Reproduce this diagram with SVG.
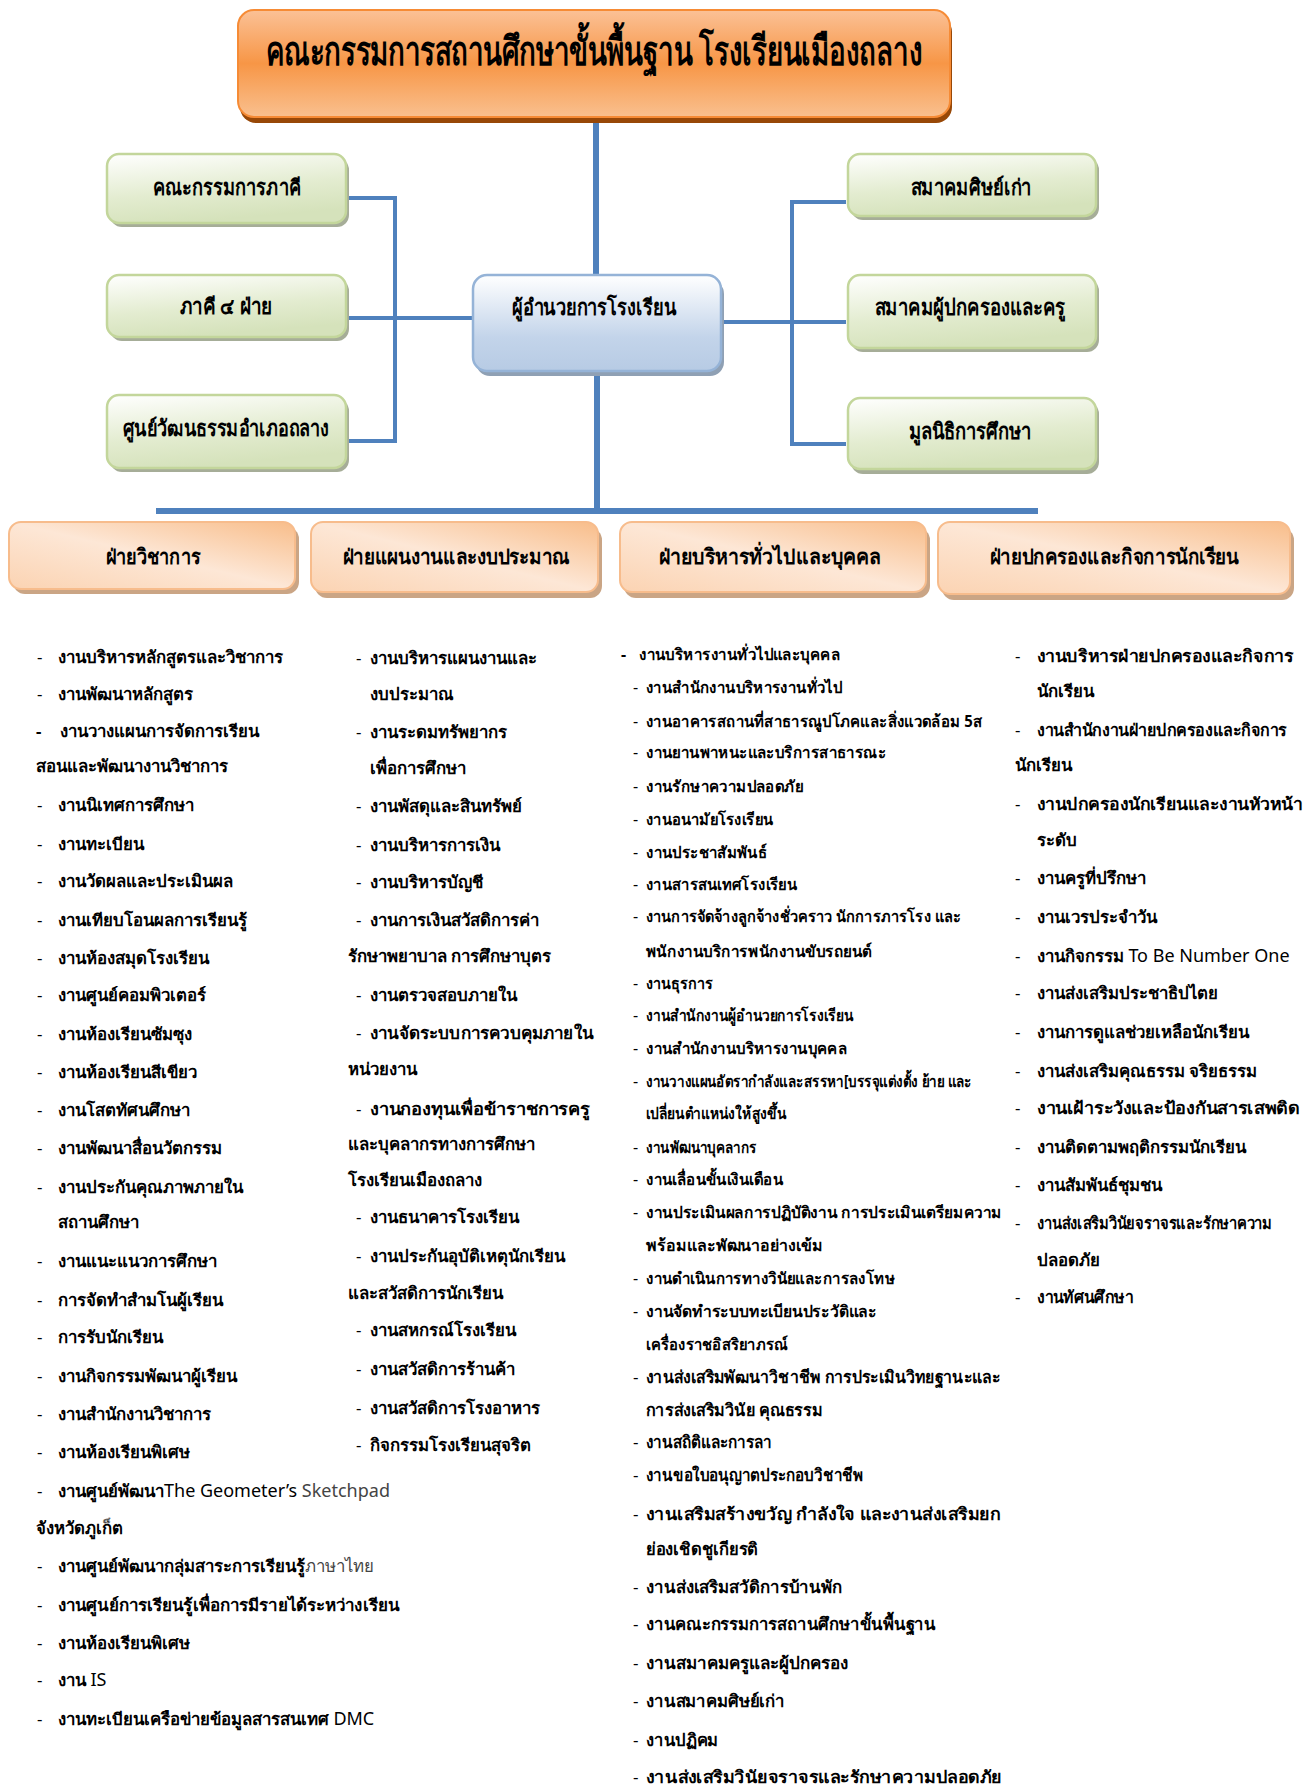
<svg xmlns="http://www.w3.org/2000/svg" width="1312" height="1788" viewBox="0 0 1312 1788">
<defs>
<linearGradient id="gTop" x1="0" y1="0" x2="0" y2="1">
<stop offset="0" stop-color="#fbc196"/><stop offset="0.5" stop-color="#f79646"/><stop offset="1" stop-color="#f9c08f"/>
</linearGradient>
<linearGradient id="gGreen" x1="0" y1="0" x2="0.3" y2="1">
<stop offset="0" stop-color="#ffffff"/><stop offset="0.6" stop-color="#e3ecd0"/><stop offset="1" stop-color="#d5e2bb"/>
</linearGradient>
<linearGradient id="gBlue" x1="0" y1="0" x2="0" y2="1">
<stop offset="0" stop-color="#ffffff"/><stop offset="0.65" stop-color="#c3d4ea"/><stop offset="1" stop-color="#b7cbe4"/>
</linearGradient>
<linearGradient id="gPeach" x1="1" y1="0" x2="0" y2="1">
<stop offset="0" stop-color="#f8bd8a"/><stop offset="0.5" stop-color="#fde7d6"/><stop offset="1" stop-color="#fbd3b2"/>
</linearGradient>
<style>
.conn{stroke:#4f81bd;fill:none}
.thin{stroke-width:4}
.thick{stroke-width:6}
.hd{font-family:"Noto Sans","DejaVu Sans",sans-serif;font-weight:bold;fill:#000;text-anchor:middle}
.li{font-family:"Noto Sans","DejaVu Sans",sans-serif;font-size:16.8px;font-weight:bold;fill:#000}
.l3{font-size:16px}
.l3b{font-size:17px}
.d{font-weight:normal}
.nw{font-weight:normal}
.lat{font-weight:normal;font-size:18px}
</style>
</defs>

<g id="connectors">
<line class="conn thick" x1="596" y1="122" x2="596" y2="276"/>
<line class="conn thick" x1="597" y1="374" x2="597" y2="511"/>
<line class="conn thick" x1="156" y1="511" x2="1038" y2="511"/>
<polyline class="conn thin" points="346,198 395,198 395,441 346,441"/>
<line class="conn thin" x1="346" y1="318" x2="472" y2="318"/>
<polyline class="conn thin" points="846,202 792,202 792,444 846,444"/>
<line class="conn thin" x1="721" y1="322" x2="846" y2="322"/>
</g>

<g id="n-top">
<rect x="240" y="16" width="712" height="107" rx="16" fill="#984807"/>
<rect x="238" y="10" width="712" height="107" rx="16" fill="url(#gTop)" stroke="#f68b35" stroke-width="2"/>
<text class="hd" x="594" y="65" font-size="40" textLength="657" lengthAdjust="spacingAndGlyphs">คณะกรรมการสถานศึกษาขั้นพื้นฐาน โรงเรียนเมืองถลาง</text>
</g>

<g id="n-left1">
<rect x="110" y="158" width="239" height="69" rx="12" fill="#a6ad98"/>
<rect x="107" y="154" width="239" height="69" rx="12" fill="url(#gGreen)" stroke="#c3d69b" stroke-width="2.5"/>
<text class="hd" x="227" y="195" font-size="22" textLength="148" lengthAdjust="spacingAndGlyphs">คณะกรรมการภาคี</text>
</g>
<g id="n-left2">
<rect x="110" y="279" width="239" height="62" rx="12" fill="#a6ad98"/>
<rect x="107" y="275" width="239" height="62" rx="12" fill="url(#gGreen)" stroke="#c3d69b" stroke-width="2.5"/>
<text class="hd" x="226" y="314" font-size="22" textLength="93" lengthAdjust="spacingAndGlyphs">ภาคี ๔ ฝ่าย</text>
</g>
<g id="n-left3">
<rect x="110" y="399" width="239" height="73" rx="12" fill="#a6ad98"/>
<rect x="107" y="395" width="239" height="73" rx="12" fill="url(#gGreen)" stroke="#c3d69b" stroke-width="2.5"/>
<text class="hd" x="226" y="436" font-size="22" textLength="206" lengthAdjust="spacingAndGlyphs">ศูนย์วัฒนธรรมอำเภอถลาง</text>
</g>

<g id="n-center">
<rect x="476" y="280" width="248" height="96" rx="14" fill="#8fa0b4"/>
<rect x="473" y="275" width="248" height="96" rx="14" fill="url(#gBlue)" stroke="#95b3d7" stroke-width="2.5"/>
<text class="hd" x="594" y="315" font-size="22" textLength="164" lengthAdjust="spacingAndGlyphs">ผู้อำนวยการโรงเรียน</text>
</g>

<g id="n-right1">
<rect x="851" y="158" width="248" height="62" rx="12" fill="#a6ad98"/>
<rect x="848" y="154" width="248" height="62" rx="12" fill="url(#gGreen)" stroke="#c3d69b" stroke-width="2.5"/>
<text class="hd" x="971" y="195" font-size="22" textLength="121" lengthAdjust="spacingAndGlyphs">สมาคมศิษย์เก่า</text>
</g>
<g id="n-right2">
<rect x="851" y="279" width="248" height="73" rx="12" fill="#a6ad98"/>
<rect x="848" y="275" width="248" height="73" rx="12" fill="url(#gGreen)" stroke="#c3d69b" stroke-width="2.5"/>
<text class="hd" x="970" y="315" font-size="22" textLength="191" lengthAdjust="spacingAndGlyphs">สมาคมผู้ปกครองและครู</text>
</g>
<g id="n-right3">
<rect x="851" y="402" width="248" height="72" rx="12" fill="#a6ad98"/>
<rect x="848" y="398" width="248" height="71" rx="12" fill="url(#gGreen)" stroke="#c3d69b" stroke-width="2.5"/>
<text class="hd" x="970" y="439" font-size="22" textLength="123" lengthAdjust="spacingAndGlyphs">มูลนิธิการศึกษา</text>
</g>

<g id="n-div1">
<rect x="13" y="527" width="286" height="67" rx="12" fill="#caa585"/>
<rect x="9" y="522" width="286" height="67" rx="12" fill="url(#gPeach)" stroke="#f7bc8c" stroke-width="2"/>
<text class="hd" x="153" y="564" font-size="21" textLength="95" lengthAdjust="spacingAndGlyphs">ฝ่ายวิชาการ</text>
</g>
<g id="n-div2">
<rect x="315" y="528" width="287" height="70" rx="12" fill="#caa585"/>
<rect x="311" y="522" width="287" height="70" rx="12" fill="url(#gPeach)" stroke="#f7bc8c" stroke-width="2"/>
<text class="hd" x="456" y="564" font-size="21" textLength="227" lengthAdjust="spacingAndGlyphs">ฝ่ายแผนงานและงบประมาณ</text>
</g>
<g id="n-div3">
<rect x="624" y="528" width="306" height="70" rx="12" fill="#caa585"/>
<rect x="620" y="522" width="306" height="70" rx="12" fill="url(#gPeach)" stroke="#f7bc8c" stroke-width="2"/>
<text class="hd" x="770" y="564" font-size="21" textLength="222" lengthAdjust="spacingAndGlyphs">ฝ่ายบริหารทั่วไปและบุคคล</text>
</g>
<g id="n-div4">
<rect x="942" y="528" width="352" height="72" rx="12" fill="#caa585"/>
<rect x="938" y="522" width="352" height="72" rx="12" fill="url(#gPeach)" stroke="#f7bc8c" stroke-width="2"/>
<text class="hd" x="1114" y="564" font-size="21" textLength="249" lengthAdjust="spacingAndGlyphs">ฝ่ายปกครองและกิจการนักเรียน</text>
</g>

<g id="list-academic" class="li">
<text x="37" y="663" class="d">-</text><text x="58" y="663">งานบริหารหลักสูตรและวิชาการ</text>
<text x="37" y="700" class="d">-</text><text x="58" y="700">งานพัฒนาหลักสูตร</text>
<text x="36" y="737">-</text><text x="60" y="737">งานวางแผนการจัดการเรียน</text>
<text x="36" y="772">สอนและพัฒนางานวิชาการ</text>
<text x="37" y="811" class="d">-</text><text x="58" y="811">งานนิเทศการศึกษา</text>
<text x="37" y="850" class="d">-</text><text x="58" y="850">งานทะเบียน</text>
<text x="37" y="887" class="d">-</text><text x="58" y="887">งานวัดผลและประเมินผล</text>
<text x="37" y="926" class="d">-</text><text x="58" y="926">งานเทียบโอนผลการเรียนรู้</text>
<text x="37" y="964" class="d">-</text><text x="58" y="964">งานห้องสมุดโรงเรียน</text>
<text x="37" y="1001" class="d">-</text><text x="58" y="1001">งานศูนย์คอมพิวเตอร์</text>
<text x="37" y="1040" class="d">-</text><text x="58" y="1040">งานห้องเรียนซัมซุง</text>
<text x="37" y="1078" class="d">-</text><text x="58" y="1078">งานห้องเรียนสีเขียว</text>
<text x="37" y="1116" class="d">-</text><text x="58" y="1116">งานโสตทัศนศึกษา</text>
<text x="37" y="1154" class="d">-</text><text x="58" y="1154">งานพัฒนาสื่อนวัตกรรม</text>
<text x="37" y="1193" class="d">-</text><text x="58" y="1193">งานประกันคุณภาพภายใน</text>
<text x="58" y="1228">สถานศึกษา</text>
<text x="37" y="1267" class="d">-</text><text x="58" y="1267">งานแนะแนวการศึกษา</text>
<text x="37" y="1306" class="d">-</text><text x="58" y="1306">การจัดทำสำมโนผู้เรียน</text>
<text x="37" y="1343" class="d">-</text><text x="58" y="1343">การรับนักเรียน</text>
<text x="37" y="1382" class="d">-</text><text x="58" y="1382">งานกิจกรรมพัฒนาผู้เรียน</text>
<text x="37" y="1420" class="d">-</text><text x="58" y="1420">งานสำนักงานวิชาการ</text>
<text x="37" y="1458" class="d">-</text><text x="58" y="1458">งานห้องเรียนพิเศษ</text>
<text x="37" y="1497" class="d">-</text><text x="58" y="1497">งานศูนย์พัฒนา<tspan class="lat">The Geometer’s </tspan><tspan class="lat" fill="#444">Sketchpad</tspan></text>
<text x="36" y="1534">จังหวัดภูเก็ต</text>
<text x="37" y="1572" class="d">-</text><text x="58" y="1572">งานศูนย์พัฒนากลุ่มสาระการเรียนรู้<tspan class="nw" fill="#444">ภาษาไทย</tspan></text>
<text x="37" y="1611" class="d">-</text><text x="58" y="1611" textLength="341" lengthAdjust="spacingAndGlyphs">งานศูนย์การเรียนรู้เพื่อการมีรายได้ระหว่างเรียน</text>
<text x="37" y="1649" class="d">-</text><text x="58" y="1649">งานห้องเรียนพิเศษ</text>
<text x="37" y="1686" class="d">-</text><text x="58" y="1686">งาน <tspan class="lat">IS</tspan></text>
<text x="37" y="1725" class="d">-</text><text x="58" y="1725">งานทะเบียนเครือข่ายข้อมูลสารสนเทศ <tspan class="lat">DMC</tspan></text>
</g>

<g id="list-budget" class="li">
<text x="356" y="664" class="d">-</text><text x="370" y="664">งานบริหารแผนงานและ</text>
<text x="370" y="700">งบประมาณ</text>
<text x="356" y="738" class="d">-</text><text x="370" y="738">งานระดมทรัพยากร</text>
<text x="370" y="774">เพื่อการศึกษา</text>
<text x="356" y="812" class="d">-</text><text x="370" y="812">งานพัสดุและสินทรัพย์</text>
<text x="356" y="851" class="d">-</text><text x="370" y="851">งานบริหารการเงิน</text>
<text x="356" y="888" class="d">-</text><text x="370" y="888">งานบริหารบัญชี</text>
<text x="356" y="926" class="d">-</text><text x="370" y="926">งานการเงินสวัสดิการค่า</text>
<text x="348" y="962">รักษาพยาบาล การศึกษาบุตร</text>
<text x="356" y="1001" class="d">-</text><text x="370" y="1001">งานตรวจสอบภายใน</text>
<text x="356" y="1039" class="d">-</text><text x="370" y="1039" textLength="223" lengthAdjust="spacingAndGlyphs">งานจัดระบบการควบคุมภายใน</text>
<text x="348" y="1075">หน่วยงาน</text>
<text x="356" y="1115" class="d">-</text><text x="370" y="1115" textLength="220" lengthAdjust="spacingAndGlyphs">งานกองทุนเพื่อข้าราชการครู</text>
<text x="348" y="1150">และบุคลากรทางการศึกษา</text>
<text x="348" y="1186">โรงเรียนเมืองถลาง</text>
<text x="356" y="1223" class="d">-</text><text x="370" y="1223">งานธนาคารโรงเรียน</text>
<text x="356" y="1262" class="d">-</text><text x="370" y="1262">งานประกันอุบัติเหตุนักเรียน</text>
<text x="348" y="1299">และสวัสดิการนักเรียน</text>
<text x="356" y="1336" class="d">-</text><text x="370" y="1336">งานสหกรณ์โรงเรียน</text>
<text x="356" y="1375" class="d">-</text><text x="370" y="1375">งานสวัสดิการร้านค้า</text>
<text x="356" y="1414" class="d">-</text><text x="370" y="1414">งานสวัสดิการโรงอาหาร</text>
<text x="356" y="1451" class="d">-</text><text x="370" y="1451">กิจกรรมโรงเรียนสุจริต</text>
</g>

<g id="list-general" class="li l3">
<text x="621" y="660">-</text><text x="639" y="660" textLength="201" lengthAdjust="spacingAndGlyphs">งานบริหารงานทั่วไปและบุคคล</text>
<text x="633" y="693" class="d">-</text><text x="646" y="693" textLength="196" lengthAdjust="spacingAndGlyphs">งานสำนักงานบริหารงานทั่วไป</text>
<text x="633" y="727" class="d">-</text><text x="646" y="727" textLength="336" lengthAdjust="spacingAndGlyphs">งานอาคารสถานที่สาธารณูปโภคและสิ่งแวดล้อม 5ส</text>
<text x="633" y="758" class="d">-</text><text x="646" y="758" textLength="240" lengthAdjust="spacingAndGlyphs">งานยานพาหนะและบริการสาธารณะ</text>
<text x="633" y="792" class="d">-</text><text x="646" y="792" textLength="157" lengthAdjust="spacingAndGlyphs">งานรักษาความปลอดภัย</text>
<text x="633" y="825" class="d">-</text><text x="646" y="825" textLength="127" lengthAdjust="spacingAndGlyphs">งานอนามัยโรงเรียน</text>
<text x="633" y="858" class="d">-</text><text x="646" y="858" textLength="121" lengthAdjust="spacingAndGlyphs">งานประชาสัมพันธ์</text>
<text x="633" y="890" class="d">-</text><text x="646" y="890" textLength="151" lengthAdjust="spacingAndGlyphs">งานสารสนเทศโรงเรียน</text>
<text x="633" y="922" class="d">-</text><text x="646" y="922" textLength="315" lengthAdjust="spacingAndGlyphs">งานการจัดจ้างลูกจ้างชั่วคราว นักการภารโรง และ</text>
<text x="646" y="957" textLength="226" lengthAdjust="spacingAndGlyphs">พนักงานบริการพนักงานขับรถยนต์</text>
<text x="633" y="989" class="d">-</text><text x="646" y="989" textLength="67" lengthAdjust="spacingAndGlyphs">งานธุรการ</text>
<text x="633" y="1021" class="d">-</text><text x="646" y="1021" textLength="207" lengthAdjust="spacingAndGlyphs">งานสำนักงานผู้อำนวยการโรงเรียน</text>
<text x="633" y="1054" class="d">-</text><text x="646" y="1054" textLength="201" lengthAdjust="spacingAndGlyphs">งานสำนักงานบริหารงานบุคคล</text>
<text x="633" y="1087" class="d">-</text><text x="646" y="1087" textLength="326" lengthAdjust="spacingAndGlyphs">งานวางแผนอัตรากำลังและสรรหา[บรรจุแต่งตั้ง ย้าย และ</text>
<text x="646" y="1119" textLength="140" lengthAdjust="spacingAndGlyphs">เปลี่ยนตำแหน่งให้สูงขึ้น</text>
<text x="633" y="1153" class="d">-</text><text x="646" y="1153" textLength="111" lengthAdjust="spacingAndGlyphs">งานพัฒนาบุคลากร</text>
<text x="633" y="1185" class="d">-</text><text x="646" y="1185" textLength="137" lengthAdjust="spacingAndGlyphs">งานเลื่อนขั้นเงินเดือน</text>
<text x="633" y="1218" class="d">-</text><text x="646" y="1218" textLength="356" lengthAdjust="spacingAndGlyphs">งานประเมินผลการปฏิบัติงาน การประเมินเตรียมความ</text>
<text x="646" y="1251" textLength="177" lengthAdjust="spacingAndGlyphs">พร้อมและพัฒนาอย่างเข้ม</text>
<text x="633" y="1284" class="d">-</text><text x="646" y="1284" textLength="249" lengthAdjust="spacingAndGlyphs">งานดำเนินการทางวินัยและการลงโทษ</text>
<text x="633" y="1317" class="d">-</text><text x="646" y="1317" textLength="231" lengthAdjust="spacingAndGlyphs">งานจัดทำระบบทะเบียนประวัติและ</text>
<text x="646" y="1350" textLength="142" lengthAdjust="spacingAndGlyphs">เครื่องราชอิสริยาภรณ์</text>
<g class="l3b">
<text x="633" y="1383" class="d">-</text><text x="646" y="1383" textLength="354" lengthAdjust="spacingAndGlyphs">งานส่งเสริมพัฒนาวิชาชีพ การประเมินวิทยฐานะและ</text>
<text x="646" y="1416" textLength="176" lengthAdjust="spacingAndGlyphs">การส่งเสริมวินัย คุณธรรม</text>
<text x="633" y="1448" class="d">-</text><text x="646" y="1448" textLength="126" lengthAdjust="spacingAndGlyphs">งานสถิติและการลา</text>
<text x="633" y="1481" class="d">-</text><text x="646" y="1481" textLength="217" lengthAdjust="spacingAndGlyphs">งานขอใบอนุญาตประกอบวิชาชีพ</text>
<text x="633" y="1520" class="d">-</text><text x="646" y="1520" textLength="354" lengthAdjust="spacingAndGlyphs">งานเสริมสร้างขวัญ กำลังใจ และงานส่งเสริมยก</text>
<text x="646" y="1555" textLength="112" lengthAdjust="spacingAndGlyphs">ย่องเชิดชูเกียรติ</text>
<text x="633" y="1593" class="d">-</text><text x="646" y="1593" textLength="196" lengthAdjust="spacingAndGlyphs">งานส่งเสริมสวัดิการบ้านพัก</text>
<text x="633" y="1630" class="d">-</text><text x="646" y="1630" textLength="290" lengthAdjust="spacingAndGlyphs">งานคณะกรรมการสถานศึกษาขั้นพื้นฐาน</text>
<text x="633" y="1669" class="d">-</text><text x="646" y="1669" textLength="202" lengthAdjust="spacingAndGlyphs">งานสมาคมครูและผู้ปกครอง</text>
<text x="633" y="1707" class="d">-</text><text x="646" y="1707" textLength="139" lengthAdjust="spacingAndGlyphs">งานสมาคมศิษย์เก่า</text>
<text x="633" y="1746" class="d">-</text><text x="646" y="1746" textLength="72" lengthAdjust="spacingAndGlyphs">งานปฏิคม</text>
<text x="633" y="1783" class="d">-</text><text x="646" y="1783" textLength="356" lengthAdjust="spacingAndGlyphs">งานส่งเสริมวินัยจราจรและรักษาความปลอดภัย</text>
</g>
</g>

<g id="list-student" class="li">
<text x="1015" y="662" class="d">-</text><text x="1037" y="662" textLength="256" lengthAdjust="spacingAndGlyphs">งานบริหารฝ่ายปกครองและกิจการ</text>
<text x="1037" y="697">นักเรียน</text>
<text x="1015" y="736" class="d">-</text><text x="1037" y="736" textLength="250" lengthAdjust="spacingAndGlyphs">งานสำนักงานฝ่ายปกครองและกิจการ</text>
<text x="1015" y="771">นักเรียน</text>
<text x="1015" y="810" class="d">-</text><text x="1037" y="810" textLength="265" lengthAdjust="spacingAndGlyphs">งานปกครองนักเรียนและงานหัวหน้า</text>
<text x="1037" y="846">ระดับ</text>
<text x="1015" y="884" class="d">-</text><text x="1037" y="884">งานครูที่ปรึกษา</text>
<text x="1015" y="923" class="d">-</text><text x="1037" y="923">งานเวรประจำวัน</text>
<text x="1015" y="962" class="d">-</text><text x="1037" y="962">งานกิจกรรม <tspan class="lat">To Be Number One</tspan></text>
<text x="1015" y="999" class="d">-</text><text x="1037" y="999">งานส่งเสริมประชาธิปไตย</text>
<text x="1015" y="1038" class="d">-</text><text x="1037" y="1038">งานการดูแลช่วยเหลือนักเรียน</text>
<text x="1015" y="1077" class="d">-</text><text x="1037" y="1077">งานส่งเสริมคุณธรรม จริยธรรม</text>
<text x="1015" y="1114" class="d">-</text><text x="1037" y="1114" textLength="263" lengthAdjust="spacingAndGlyphs">งานเฝ้าระวังและป้องกันสารเสพติด</text>
<text x="1015" y="1153" class="d">-</text><text x="1037" y="1153">งานติดตามพฤติกรรมนักเรียน</text>
<text x="1015" y="1191" class="d">-</text><text x="1037" y="1191">งานสัมพันธ์ชุมชน</text>
<text x="1015" y="1229" class="d">-</text><text x="1037" y="1229" textLength="235" lengthAdjust="spacingAndGlyphs">งานส่งเสริมวินัยจราจรและรักษาความ</text>
<text x="1037" y="1266">ปลอดภัย</text>
<text x="1015" y="1303" class="d">-</text><text x="1037" y="1303" textLength="96" lengthAdjust="spacingAndGlyphs">งานทัศนศึกษา</text>
</g>
</svg>
